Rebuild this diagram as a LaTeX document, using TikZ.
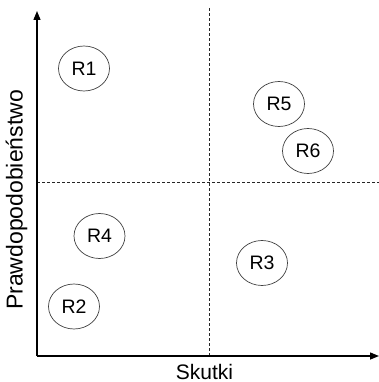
\documentclass[tikz,border=0pt]{standalone}
\usepackage{fontspec}
\setmainfont{Liberation Sans}
\usetikzlibrary{arrows.meta,shapes.geometric}
\begin{document}
\begin{tikzpicture}[x=1pt,y=-1pt,
  risk/.style={draw=black!75,line width=0.7pt,ellipse,minimum width=51pt,minimum height=45pt,inner sep=0pt,font=\fontsize{19.5}{22}\selectfont},
  axis/.style={line width=1.4pt,-{Triangle[length=9pt,width=7pt]}},
  grid/.style={black!85,line width=0.8pt,dash pattern=on 3pt off 2pt},
  lbl/.style={font=\fontsize{21}{24}\selectfont,inner sep=0pt}]
\useasboundingbox (0,0) rectangle (379,382);
\coordinate (O) at (37,356);
\coordinate (Ytop) at (37,11);
\coordinate (Xend) at (379,356);
\coordinate (Vtop) at (209,8);
\coordinate (Vbot) at (209,355);
\coordinate (Hl) at (37,182);
\coordinate (Hr) at (379,182);
\draw[grid] (Vtop) -- (Vbot);
\draw[grid] (Hl) -- (Hr);
\draw[axis] (O) -- (Ytop);
\draw[axis] (O) -- (Xend);
\node[risk] (r1) at (84,68.5) {R1};
\node[risk] (r5) at (279,104) {R5};
\node[risk] (r6) at (308,151) {R6};
\node[risk] (r4) at (99.5,236) {R4};
\node[risk] (r3) at (262,263) {R3};
\node[risk] (r2) at (74,306.5) {R2};
\node[lbl,anchor=base] (xl) at (204.5,379) {Skutki};
\node[lbl,rotate=90,font=\fontsize{23}{26}\selectfont] (yl) at (16.5,200) {Prawdopodobieństwo};
\end{tikzpicture}
\end{document}
